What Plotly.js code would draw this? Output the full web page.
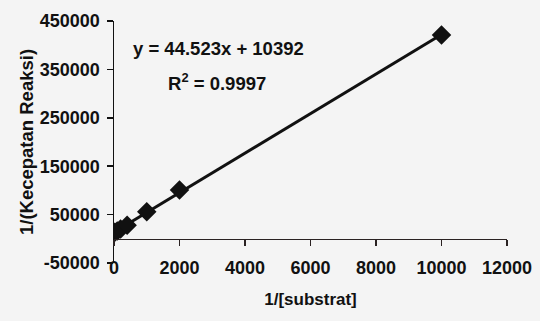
<!DOCTYPE html>
<html>
<head>
<meta charset="utf-8">
<script src="https://cdn.plot.ly/plotly-3.0.1.min.js"></script>
<style>
  html, body { margin: 0; padding: 0; background: #f4f4f4; }
  #chart { width: 540px; height: 321px; }
</style>
</head>
<body>
<div id="chart"></div>
<script>
// Data (Lineweaver-Burk plot)
const invSubstrate = [25, 100, 200, 400, 1000, 2000, 10000];
const invVelocity = [13500, 16000, 20500, 28000, 56000, 101000, 421000];

const xTickVals = [0, 2000, 4000, 6000, 8000, 10000, 12000];
const yTickVals = [-50000, 50000, 150000, 250000, 350000, 450000];

const equationText = "y = 44.523x + 10392";
const r2Text = "R<sup>2</sup> = 0.9997";
const xTitle = "1/[substrat]";
const yTitle = "1/(Kecepatan Reaksi)";

// Least-squares trendline derived from the data arrays
const n = invSubstrate.length;
const mx = invSubstrate.reduce((a, b) => a + b, 0) / n;
const my = invVelocity.reduce((a, b) => a + b, 0) / n;
let sxy = 0, sxx = 0;
for (let i = 0; i < n; i++) {
  sxy += (invSubstrate[i] - mx) * (invVelocity[i] - my);
  sxx += (invSubstrate[i] - mx) ** 2;
}
const slope = sxy / sxx;
const intercept = my - slope * mx;
const xMin = Math.min(...invSubstrate), xMax = Math.max(...invSubstrate);
const trendX = [xMin, xMax];
const trendY = trendX.map(v => slope * v + intercept);

const yRange = [-50000, 450000];
const zeroPos = (0 - yRange[0]) / (yRange[1] - yRange[0]);

const FONT = "Liberation Sans, Arial, sans-serif";
const INK = "#111111";

const traces = [
  {
    x: trendX, y: trendY, type: "scatter", mode: "lines",
    line: { color: INK, width: 3 }, hoverinfo: "skip", showlegend: false
  },
  {
    x: invSubstrate, y: invVelocity, type: "scatter", mode: "markers",
    marker: { symbol: "diamond", size: 15, color: INK, line: { width: 0 } },
    showlegend: false
  },
  // invisible trace to activate the crossing axis (ticks at y = 0)
  {
    x: [0], y: [0], xaxis: "x2", type: "scatter", mode: "markers",
    marker: { opacity: 0 }, hoverinfo: "skip", showlegend: false
  }
];

const layout = {
  width: 540, height: 321,
  margin: { l: 114, r: 33, t: 21, b: 58 },
  paper_bgcolor: "#f4f4f4",
  plot_bgcolor: "#f4f4f4",
  font: { family: FONT, color: INK, size: 18, weight: "bold" },
  showlegend: false,
  xaxis: {
    range: [0, 12000],
    tickvals: xTickVals,
    ticktext: xTickVals.map(String),
    showline: false, ticks: "", showgrid: false, zeroline: false,
    tickfont: { family: FONT, size: 18, color: INK, weight: "bold" },
    ticklabelstandoff: -8,
    title: { text: xTitle, font: { family: FONT, size: 17, color: INK, weight: "bold" }, standoff: 16 },
    automargin: false
  },
  xaxis2: {
    overlaying: "x", matches: "x", anchor: "free", position: zeroPos,
    showline: true, linecolor: "#2a2222", linewidth: 1.5,
    ticks: "outside", ticklen: 6, tickcolor: "#2a2222", tickwidth: 1.5,
    tickvals: xTickVals, showticklabels: false,
    showgrid: false, zeroline: false
  },
  yaxis: {
    range: yRange,
    tickvals: yTickVals,
    ticktext: yTickVals.map(String),
    showline: true, linecolor: INK, linewidth: 1.5,
    ticks: "outside", ticklen: 6, tickcolor: INK, tickwidth: 1.5,
    showgrid: false, zeroline: false,
    tickfont: { family: FONT, size: 18, color: INK, weight: "bold" },
    ticklabelstandoff: 3,
    title: { text: yTitle, font: { family: FONT, size: 18.5, color: INK, weight: "bold" }, standoff: 1 },
    automargin: false
  },
  annotations: [
    {
      xref: "paper", yref: "paper", x: 0.265, y: 0.885,
      xanchor: "center", yanchor: "middle",
      text: equationText, showarrow: false,
      font: { family: FONT, size: 18.5, color: INK, weight: "bold" }
    },
    {
      xref: "paper", yref: "paper", x: 0.262, y: 0.75,
      xanchor: "center", yanchor: "middle",
      text: r2Text, showarrow: false,
      font: { family: FONT, size: 18.5, color: INK, weight: "bold" }
    }
  ]
};

Plotly.newPlot("chart", traces, layout, { staticPlot: true, displayModeBar: false });
</script>
</body>
</html>
